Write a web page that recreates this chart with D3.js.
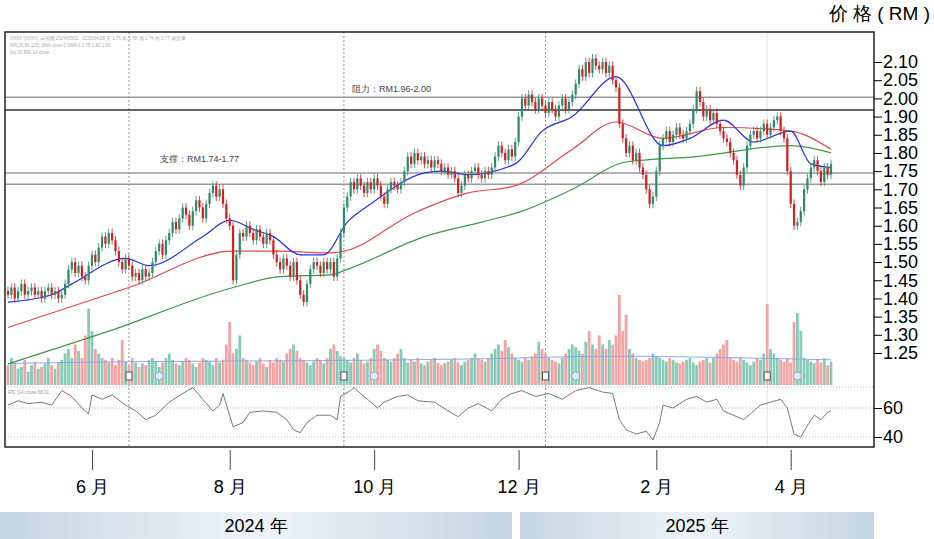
<!DOCTYPE html>
<html><head><meta charset="utf-8">
<script src="https://cdn.jsdelivr.net/npm/d3@7"></script>
<style>body{margin:0;background:#fff}svg{display:block;font-family:"Liberation Sans",Arial,sans-serif}</style>
</head><body><svg id="c" width="934" height="539"></svg>
<script>
// ---- data ----
const closes = [
1.41,1.43,1.40,1.42,1.44,1.41,1.42,1.43,1.41,1.42,1.40,1.42,1.43,1.41,1.42,1.40,1.41,
1.44,1.48,1.50,1.47,1.49,1.46,1.45,1.49,1.52,1.50,1.54,1.57,1.55,1.58,1.56,
1.53,1.50,1.48,1.51,1.49,1.46,1.47,1.45,1.48,1.46,1.47,
1.50,1.53,1.55,1.52,1.56,1.58,1.61,1.59,1.62,1.65,1.63,1.60,1.64,1.67,1.65,1.62,
1.66,1.69,1.71,1.68,1.70,1.66,1.62,1.60,
1.45,
1.52,1.58,1.57,1.60,1.58,1.56,1.59,1.57,1.55,1.58,1.56,
1.52,1.50,1.48,1.51,1.49,1.46,1.50,1.45,1.41,1.39,
1.44,1.48,1.50,1.49,1.47,1.50,1.48,1.50,1.46,1.51,
1.58,1.65,1.68,1.72,1.70,1.73,
1.71,1.69,1.72,1.70,1.73,1.71,1.68,1.66,1.70,1.72,1.71,1.70,1.72,
1.75,1.79,1.77,1.80,1.78,1.79,1.77,1.78,1.76,1.78,1.77,1.75,
1.76,1.74,1.75,1.73,1.69,1.71,1.74,1.73,1.75,1.76,1.74,1.73,1.75,1.74,
1.76,1.79,1.82,1.80,1.78,1.81,1.79,1.83,
1.90,1.95,1.93,1.96,1.94,1.92,1.95,1.93,1.91,1.94,1.92,1.90,1.93,1.95,1.92,1.94,
1.96,1.99,2.03,2.01,2.05,2.02,2.06,2.04,2.03,2.05,2.02,2.04,2.00,1.98,
1.88,1.84,1.80,1.82,1.78,1.80,1.76,1.74,1.70,1.66,1.68,
1.75,1.82,1.84,1.86,1.83,1.85,1.87,1.85,1.84,1.86,
1.88,1.92,1.97,1.94,1.90,1.92,1.89,1.91,1.88,
1.86,1.84,1.83,1.80,1.78,1.74,1.71,1.76,1.82,1.85,1.86,
1.84,1.86,1.88,1.85,1.87,1.89,1.90,1.86,1.84,
1.75,1.66,1.60,1.61,1.64,
1.70,1.73,1.76,1.78,1.75,1.72,1.76,1.74,1.77];
const firstOpen = 1.42;
const volumes = [
22,30,25,18,20,28,15,22,26,18, 20,24,30,22,18,25,28,35,40,30,
45,38,30,55,85,60,40,35,30,28, 25,30,22,28,50,26,22,30,25,20,
24,22,28,30,26,20,25,30,35,28, 24,22,26,30,28,24,20,25,30,28,
26,22,30,25,28,45,70,35,40,55, 30,28,25,22,26,30,24,20,28,25,
30,28,26,35,40,45,38,30,28,25, 22,26,30,28,24,30,40,45,38,32,
30,28,25,30,35,28,24,26,30,40, 45,38,30,28,26,30,35,40,30,25,
28,26,30,24,22,26,28,30,25,22, 24,26,28,30,25,22,26,28,30,35,
30,28,26,30,35,40,45,38,50,42, 35,30,28,26,30,28,32,35,48,40,
35,30,28,26,24,30,35,40,45,42, 38,35,48,60,45,40,55,45,40,50,
45,55,100,60,78,40,35,30,28,26, 28,30,35,32,30,28,26,30,28,25,
24,26,28,30,25,22,26,28,30,25, 30,35,40,45,50,30,28,26,30,28,
25,22,26,30,28,35,90,40,35,30, 28,26,30,25,70,80,60,30,28,26,
24,28,25,30,22,26];
const avgVol = [[0,24],[40,26],[90,27],[140,29],[180,32],[220,30],[245,28]];
const ma20 = [[0,1.39],[13,1.41],[19,1.44],[35,1.51],[42,1.49],[58,1.57],[66,1.615],[73,1.59],[79,1.57],[87,1.52],[94,1.52],[101,1.61],[108,1.66],[124,1.745],[129,1.75],[137,1.74],[151,1.77],[159,1.86],[168,1.90],[181,2.01],[195,1.82],[203,1.84],[213,1.89],[222,1.83],[233,1.86],[239,1.77],[245,1.76]];
const ma50 = [[0,1.32],[36,1.43],[67,1.53],[81,1.53],[96,1.525],[100,1.53],[121,1.635],[137,1.69],[151,1.71],[168,1.81],[181,1.885],[195,1.84],[213,1.87],[233,1.86],[245,1.81]];
const ma120 = [[0,1.22],[30,1.31],[67,1.43],[81,1.46],[96,1.465],[101,1.48],[124,1.57],[141,1.61],[153,1.64],[168,1.70],[184,1.775],[205,1.79],[233,1.82],[245,1.80]];
const rsi = [[0,62],[3,65],[6,63],[10,64],[13,62],[16,72],[19,68],[22,60],[24,56],[25,69],[28,66],[31,69],[35,62],[38,58],[41,52],[44,55],[48,64],[52,70],[55,74],[58,66],[61,58],[63,62],[64,70],[67,47],[70,50],[72,57],[76,58],[80,57],[83,52],[85,45],[87,43],[89,50],[92,55],[96,55],[98,52],[99,68],[102,72],[103,74],[107,66],[110,60],[112,64],[116,68],[119,69],[122,65],[127,64],[131,58],[134,54],[137,60],[140,63],[144,58],[147,66],[150,70],[153,72],[157,68],[161,70],[165,66],[169,72],[173,74],[177,71],[180,70],[182,52],[184,45],[187,42],[190,44],[192,38],[194,50],[195,62],[198,60],[202,66],[205,68],[208,64],[211,66],[213,58],[216,55],[219,52],[221,56],[224,62],[227,64],[230,66],[232,60],[234,42],[236,40],[238,48],[240,55],[242,52],[244,57],[245,58]];
const levels = [1.953,1.918,1.745,1.714];
const tickVals = [2.05,2.00,1.95,1.90,1.85,1.80,1.75,1.70,1.65,1.60,1.55,1.50,1.45,1.40,1.35,1.30,1.25];
const tickLabels = ["2.10","2.05","2.00","1.90","1.85","1.80","1.75","1.70","1.65","1.60","1.55","1.50","1.45","1.40","1.35","1.30","1.25"];
const monthIdx = [25,66,109,152,193,233];
const monthLabels = ["6 月","8 月","10 月","12 月","2 月","4 月"];
const markerIdx = [36,100,160,226];
const years = [{t:"2024 年",a:0,b:512},{t:"2025 年",a:520,b:874}];

// ---- scales ----
const svg = d3.select("#c");
const N = closes.length;
const L=5,R=874,T=32,B=447;
const x = d3.scaleLinear().domain([0,N-1]).range([8,831]);
const y = d3.scaleLinear().domain([1.25,2.05]).range([353,62]);
const yv = d3.scaleLinear().domain([0,100]).range([385,295]);
const yr = d3.scaleLinear().domain([40,60]).range([437,408]);
const cw = 2.2;

const defs = svg.append("defs");
const cp = defs.append("clipPath").attr("id","cp");
cp.append("rect").attr("x",L).attr("y",T).attr("width",R-L).attr("height",386-T);
const gr = defs.append("linearGradient").attr("id","yg");
gr.append("stop").attr("offset","0").attr("stop-color","#c5d5e3");
gr.append("stop").attr("offset","0.5").attr("stop-color","#eef3f8");
gr.append("stop").attr("offset","1").attr("stop-color","#c5d5e3");

const lg = svg.append("g").attr("font-size",4.5).attr("fill","#aaa");
lg.append("text").attr("x",10).attr("y",40).text("XXXX (XXXX) 日线图 2024/05/02 - 2025/04/28  开 1.75 高 1.78 低 1.74 收 1.77 成交量");
lg.append("text").attr("x",10).attr("y",47).text("MA(20,50,120) SMA close 0 SMA 9  1.76 1.81 1.80");
lg.append("text").attr("x",10).attr("y",54).text("Vol 20  RSI 14 close");

markerIdx.forEach((m,k)=>{
  svg.append("line").attr("x1",x(m)).attr("x2",x(m)).attr("y1",T).attr("y2",B)
    .attr("stroke",k==3?"#ddd":"#777").attr("stroke-dasharray",k==3?null:"2,2").attr("stroke-width",0.8);
});

levels.forEach((v,k)=>{
  svg.append("line").attr("x1",L).attr("x2",R).attr("y1",y(v)).attr("y2",y(v))
    .attr("stroke",k==1?"#333":"#999").attr("stroke-width",k==1?1.6:1.4);
});
svg.append("text").attr("x",352).attr("y",92).attr("font-size",9).attr("fill","#444").text("阻力：RM1.96-2.00");
svg.append("text").attr("x",160).attr("y",162).attr("font-size",9).attr("fill","#444").text("支撑：RM1.74-1.77");

const main = svg.append("g").attr("clip-path","url(#cp)");
const opens = closes.map((c,i)=>i?closes[i-1]:firstOpen);
main.selectAll(".v").data(volumes).join("rect")
  .attr("x",(d,i)=>x(i)-1.4).attr("width",2.8)
  .attr("y",d=>yv(d)).attr("height",d=>yv(0)-yv(d))
  .attr("fill",(d,i)=>closes[i]>=opens[i]?"#86cbb8":"#f3a3a3");
main.append("path").datum(avgVol).attr("fill","none").attr("stroke","#8fa8e8").attr("stroke-width",1)
  .attr("d",d3.line().x(d=>x(d[0])).y(d=>yv(d[1])).curve(d3.curveMonotoneX));
markerIdx.forEach(m=>{
  main.append("rect").attr("x",x(m)-3).attr("y",372).attr("width",6).attr("height",8).attr("fill","#fff").attr("stroke","#555");
  main.append("circle").attr("cx",x(m+9)).attr("cy",376).attr("r",4).attr("fill","#dfe8ff").attr("stroke","#9ab");
});

const ln = d3.line().x(d=>x(d[0])).y(d=>y(d[1])).curve(d3.curveMonotoneX);
[[ma120,"#3c9a45"],[ma50,"#e8454f"],[ma20,"#2030e8"]].forEach(([d,c])=>{
  main.append("path").datum(d).attr("fill","none").attr("stroke",c).attr("stroke-width",1.2).attr("d",ln);
});

const cd = closes.map((c,i)=>{const o=opens[i];return {i,o,c,h:Math.max(o,c)+0.012,l:Math.min(o,c)-0.012};});
const cg = main.selectAll(".c").data(cd).join("g");
cg.append("line").attr("x1",d=>x(d.i)).attr("x2",d=>x(d.i)).attr("y1",d=>y(d.h)).attr("y2",d=>y(d.l))
  .attr("stroke",d=>d.c>=d.o?"#2e8b6a":"#d02020").attr("stroke-width",0.8);
cg.append("rect").attr("x",d=>x(d.i)-cw/2).attr("width",cw)
  .attr("y",d=>y(Math.max(d.o,d.c))).attr("height",d=>Math.max(1,Math.abs(y(d.o)-y(d.c))))
  .attr("fill",d=>d.c>=d.o?"#2e8b6a":"#d02020");

svg.append("line").attr("x1",L).attr("x2",R).attr("y1",387).attr("y2",387).attr("stroke","#bbb").attr("stroke-dasharray","1,2");
[60,40].forEach(v=>svg.append("line").attr("x1",L).attr("x2",R).attr("y1",yr(v)).attr("y2",yr(v)).attr("stroke","#bbb").attr("stroke-dasharray","1,2"));
svg.append("path").datum(rsi).attr("fill","none").attr("stroke","#555").attr("stroke-width",0.8)
  .attr("d",d3.line().x(d=>x(d[0])).y(d=>yr(d[1])));
svg.append("text").attr("x",8).attr("y",394).attr("font-size",4.5).attr("fill","#999").text("RSI (14) close 58.21");

svg.append("rect").attr("x",L).attr("y",T).attr("width",R-L).attr("height",B-T).attr("fill","none").attr("stroke","#222").attr("stroke-width",1.5);

const ax = d3.axisRight(y).tickValues(tickVals).tickFormat((d,i)=>tickLabels[i]).tickSize(8).tickPadding(1);
const ga = svg.append("g").attr("transform",`translate(${R},0)`).call(ax);
ga.select(".domain").remove();
ga.selectAll("text").attr("font-size",18).attr("fill","#000").attr("font-family","Liberation Sans, Arial");
ga.selectAll("line").attr("stroke","#000");
const ar = d3.axisRight(yr).tickValues([60,40]).tickSize(8).tickPadding(1);
const gb = svg.append("g").attr("transform",`translate(${R},0)`).call(ar);
gb.select(".domain").remove();
gb.selectAll("text").attr("font-size",18).attr("fill","#000");
svg.append("text").attr("x",930).attr("y",20).attr("text-anchor","end").attr("font-size",19).text("价 格 ( RM )");

const ab = d3.axisBottom(x).tickValues(monthIdx).tickFormat((d,i)=>monthLabels[i]).tickSize(20).tickPadding(10);
const gm = svg.append("g").attr("transform","translate(0,450)").call(ab);
gm.select(".domain").remove();
gm.selectAll("line").attr("stroke","#444");
gm.selectAll("text").attr("font-size",18).attr("fill","#000");

years.forEach(yb=>{
  svg.append("rect").attr("x",yb.a).attr("y",512).attr("width",yb.b-yb.a).attr("height",27).attr("fill","url(#yg)");
  svg.append("text").attr("x",(yb.a+yb.b)/2).attr("y",532).attr("text-anchor","middle").attr("font-size",18).text(yb.t);
});
</script></body></html>
